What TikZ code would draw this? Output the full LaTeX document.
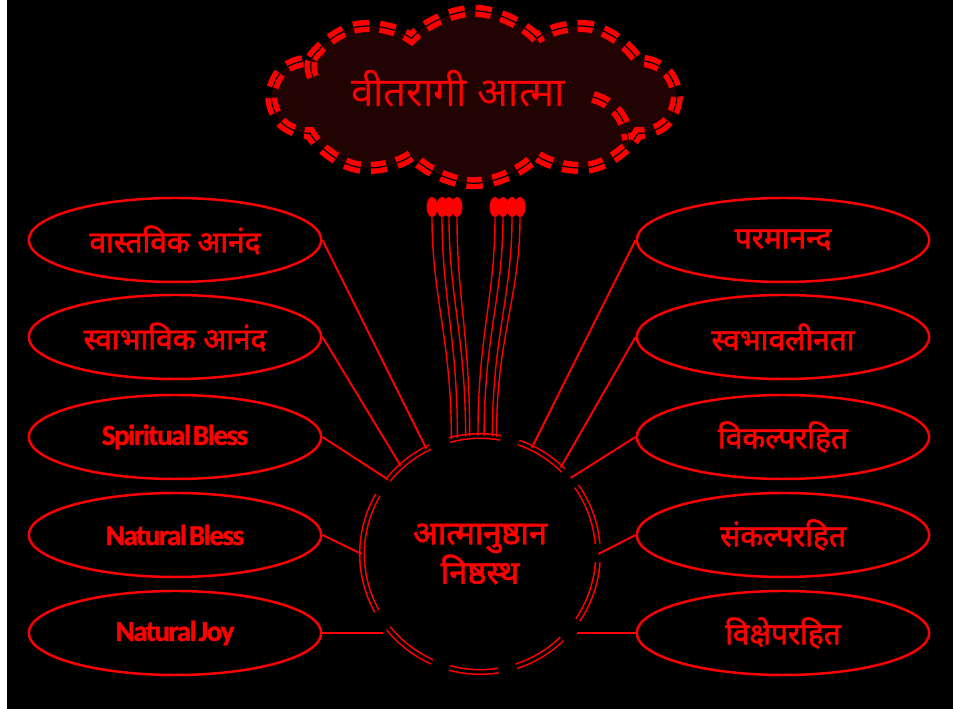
\documentclass[tikz,border=0pt]{standalone}
\usepackage{fontspec}
\newfontfamily\deva[Script=Devanagari]{Noto Sans}
\newfontfamily\devab[Script=Devanagari, FakeBold=2.2]{Noto Sans}
\newfontfamily\latn[FakeBold=1.2, LetterSpace=-5, WordSpace=0.35]{Carlito}
\usetikzlibrary{positioning,calc,shapes.geometric,shapes.symbols}
\definecolor{soulfill}{RGB}{34,3,3}
\tikzset{
  figoval/.style={ellipse, draw=red, line width=1.4pt, minimum width=5.85cm,
    minimum height=1.68cm, text=red, inner sep=1pt},
  figdeva/.style={figoval, font=\devab\fontsize{17}{20}\selectfont},
  figlatn/.style={figoval, font=\latn\bfseries\fontsize{16.5}{18}\selectfont},
  figcore/.style={circle, minimum size=4.72cm, inner sep=0pt, align=center,
    text=red, font=\devab\fontsize{18.5}{20}\selectfont},
  figlink/.style={draw=red, line width=1.1pt},
  figring/.style={draw=red, double=black, line width=0.9pt, double distance=1.7pt},
  figwire/.style={draw=red, line width=0.8pt},
  figbulb/.style={ellipse, fill=red, minimum width=0.22cm, minimum height=0.4cm, inner sep=0pt},
  figrim/.style={draw=red, double=black, line width=3.1pt, double distance=0.7pt,
    dash pattern=on 9pt off 6pt},
  figcloud/.style={cloud, cloud puffs=10, cloud puff arc=95, cloud ignores aspect,
    fill=soulfill, figrim, minimum width=8.05cm, minimum height=3.45cm},
  figtitle/.style={text=red, font=\deva\fontsize{23}{26}\selectfont},
}

\begin{document}
\begin{tikzpicture}[x=0.02cm, y=0.02cm]
  \useasboundingbox (0,0) rectangle (953,709);
  \fill[black] (7,0) rectangle (953,709);
  % cloud
  \node[figcloud] (soul) at (474,612) {};
  \draw[figrim] (313,632) to[bend left=40] (320,660);
  \draw[figrim] (593,612) to[bend left=35] (628,569);
  \node[figtitle] (soultext) at (458,620) {वीतरागी आत्मा};
  % centre
  \node[figcore] (core) at (480,155) {आत्मानुष्ठान\\निष्ठस्थ};
  \foreach \a/\b in {80/105, 45/71, 5/35, -34/-4, -72/-46, -105/-81, -141/-114, 150/209, 115/141}
    \draw[figring] ($(core.center)+(\a:2.36cm)$) arc[start angle=\a, end angle=\b, radius=2.36cm];
  % left
  \node[figdeva] (jl1) at (175,469) {वास्तविक आनंद};
  \node[figdeva] (jl2) at (175,372) {स्वाभाविक आनंद};
  \node[figlatn] (jl3) at (175,272) {Spiritual Bless};
  \node[figlatn] (jl4) at (175,174) {Natural Bless};
  \node[figlatn] (jl5) at (175,76) {Natural Joy};
  % right
  \node[figdeva] (jr1) at (783,469) {परमानन्द};
  \node[figdeva] (jr2) at (783,372) {स्वभावलीनता};
  \node[figdeva] (jr3) at (783,272) {विकल्परहित};
  \node[figdeva] (jr4) at (783,174) {संकल्परहित};
  \node[figdeva] (jr5) at (783,76) {विक्षेपरहित};
  % links
  \foreach \n/\a in {jl1/117, jl2/132, jl3/141, jl4/180} \draw[figlink] (\n.east) -- (core.\a);
  \draw[figlink] (jl5.east) -- (jl5.east -| core.215);
  \foreach \n/\a in {jr1/64, jr2/47, jr3/40, jr4/0} \draw[figlink] (\n.west) -- (core.\a);
  \draw[figlink] (jr5.west) -- (jr5.west -| core.-35);
  % bulbs and wires
  \foreach \x [count=\i] in {432,442,449,457,495,503,512,520}
    \node[figbulb] (b\i) at (\x,502) {};
  \foreach \i/\a in {1/104,2/101,3/97,4/95,5/91,6/88,7/84,8/82}
    \draw[figwire] (b\i.south) .. controls +(0,-80) and +(0,100) .. (core.\a);
\end{tikzpicture}
\end{document}
